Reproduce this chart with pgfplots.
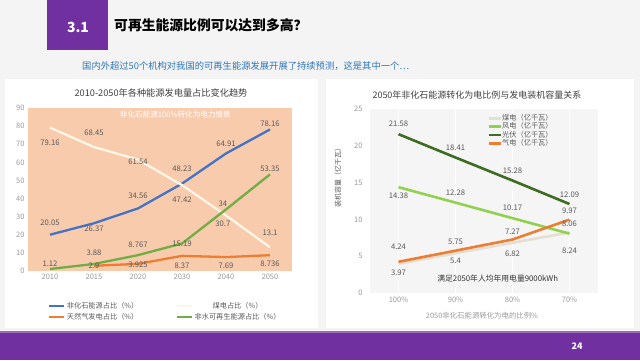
\documentclass[border=0pt]{standalone}
\usepackage{pgfplots}
\pgfplotsset{compat=1.18}
\usepackage{fontspec}
\setmainfont{Noto Sans CJK SC}
\definecolor{bgc}{HTML}{F4F4F4}
\definecolor{purp}{HTML}{7030A0}
\definecolor{subc}{HTML}{2E75B6}
\definecolor{pinkc}{HTML}{F8CBAD}
\definecolor{blueL}{HTML}{4472C4}
\definecolor{creamL}{HTML}{FDF6E6}
\definecolor{orangeL}{HTML}{ED7D31}
\definecolor{greenL}{HTML}{70AD47}
\definecolor{coalR}{HTML}{E4DFD2}
\definecolor{windR}{HTML}{92D050}
\definecolor{pvR}{HTML}{3F6B22}
\definecolor{lblc}{HTML}{595959}
\definecolor{tickc}{HTML}{9A9A9A}
\newcommand{\lb}[3]{\node[font=\fontsize{7.7}{8}\selectfont, text=lblc, yshift=#3pt, inner sep=0pt] at (axis cs:#1,#2) {#2};}
\begin{document}
\begin{tikzpicture}
% background
\fill[bgc] (0pt,0pt) rectangle (640pt,-360pt);
\fill[purp] (47pt,0pt) rectangle (108pt,-50pt);
\node[text=white, font=\fontsize{14}{16}\selectfont\bfseries] at (78pt,-27pt) {3.1};
\node[anchor=west, text=black, font=\fontsize{13.8}{15}\selectfont\bfseries, inner sep=0pt] at (114pt,-25pt) {可再生能源比例可以达到多高？};
\node[anchor=west, text=subc, font=\fontsize{9.3}{11}\selectfont, inner sep=0pt] at (82pt,-66pt) {国内外超过50个机构对我国的可再生能源发展开展了持续预测，这是其中一个…};
% panels
\fill[white] (5pt,-79pt) rectangle (318pt,-328pt);
\fill[white] (326pt,-79pt) rectangle (634pt,-328pt);
% bottom bar
\fill[purp] (0pt,-332pt) rectangle (640pt,-360pt);
\fill[purp!70!white] (0pt,-331pt) rectangle (640pt,-332.5pt);
\node[text=white, font=\fontsize{9}{10}\selectfont\bfseries] at (577pt,-346pt) {24};
% titles
\node[text=black!75, font=\fontsize{9.2}{10}\selectfont] at (161pt,-93pt) {2010-2050年各种能源发电量占比变化趋势};
\node[text=black!75, font=\fontsize{9}{10}\selectfont] at (477pt,-95pt) {2050年非化石能源转化为电比例与发电装机容量关系};

% LEFT AXIS
\begin{axis}[at={(28pt,-271pt)}, anchor=south west, width=264pt, height=163pt, scale only axis,
  xmin=-0.5, xmax=5.5, ymin=0, ymax=90, ytick={0,10,...,90},
  xtick={0,1,2,3,4,5}, xticklabels={2010,2015,2020,2030,2040,2050},
  axis line style={draw=none}, tick style={draw=none},
  axis background/.style={fill=pinkc},
  ticklabel style={font=\fontsize{7.5}{8}\selectfont, text=tickc},
  /pgf/number format/assume math mode=true,
  clip=false,
  legend columns=2,
  legend style={draw=none, fill=none, at={(axis description cs:0.064,-0.17)}, anchor=north west,
    font=\fontsize{7.2}{8}\selectfont, text=lblc, nodes={inner sep=1.5pt},
    /tikz/every even column/.append style={column sep=36pt}},
  legend image code/.code={\draw[#1] (0pt,0pt) -- (15pt,0pt);},
  every axis plot/.append style={line width=2.3pt}]
\addplot[blueL, mark=none] coordinates {(0,20.05) (1,26.37) (2,34.56) (3,48.23) (4,64.91) (5,78.16)};
\addlegendentry{非化石能源占比（\%）}
\addplot[creamL, mark=none] coordinates {(0,79.16) (1,68.45) (2,61.54) (3,47.42) (4,30.7) (5,13.1)};
\addlegendentry{煤电占比（\%）}
\addplot[orangeL, mark=none] coordinates {(1,2.9) (2,3.925) (3,8.37) (4,7.69) (5,8.736)};
\addlegendentry{天然气发电占比（\%）}
\addplot[greenL, mark=none] coordinates {(0,1.12) (1,3.88) (2,8.767) (3,15.19) (4,34) (5,53.35)};
\addlegendentry{非水可再生能源占比（\%）}
\node[text=white, font=\fontsize{7.6}{8}\selectfont] at (axis cs:2.85,86.5) {非化石能源100\%转化为电力情景};
\lb{0}{20.05}{12}\lb{1}{26.37}{-6}\lb{2}{34.56}{13}\lb{3}{48.23}{15}\lb{4}{64.91}{10}\lb{5}{78.16}{6}
\lb{0}{79.16}{-15}\lb{1}{68.45}{14}\lb{2}{61.54}{-2}\lb{3}{47.42}{-15}\lb{3.93}{30.7}{-8}\lb{5}{13.1}{15}
\lb{0}{1.12}{5}\lb{1}{3.88}{11}\lb{2}{8.767}{10}\lb{3}{15.19}{0}\lb{3.93}{34}{6}\lb{5}{53.35}{6}
\lb{1}{2.9}{0}\lb{2}{3.925}{-1}\lb{3}{8.37}{-10}\lb{4}{7.69}{-9}\lb{5}{8.736}{-9}
\end{axis}

% RIGHT AXIS
\node[rotate=90, text=lblc, font=\fontsize{7}{8}\selectfont] at (338pt,-176pt) {装机容量（亿千瓦）};
\node[text=tickc, font=\fontsize{7.4}{8}\selectfont] at (482pt,-316pt) {2050非化石能源转化为电的比例\%};
\begin{axis}[at={(370pt,-293pt)}, anchor=south west, width=228pt, height=184pt, scale only axis,
  xmin=-0.5, xmax=3.5, ymin=0, ymax=25, ytick={0,5,...,25},
  xtick={0,1,2,3}, xticklabels={100\%,90\%,80\%,70\%},
  axis line style={draw=none}, tick style={draw=none},
  axis background/.style={fill=black!4},
  xmajorgrids, grid style={white, line width=0.8pt},
  ticklabel style={font=\fontsize{7.5}{8}\selectfont, text=tickc},
  yticklabel style={xshift=-4pt},
  /pgf/number format/assume math mode=true,
  clip=false,
  legend style={draw=none, fill=none, at={(axis description cs:0.5,0.985)}, anchor=north west,
    font=\fontsize{7.2}{8}\selectfont, text=lblc, nodes={inner sep=0.4pt}, row sep=0pt},
  legend image code/.code={\draw[#1] (0pt,0pt) -- (12pt,0pt);},
  every axis plot/.append style={line width=2.6pt}]
\addplot[coalR, mark=none] coordinates {(0,3.97) (1,5.4) (2,6.82) (3,8.24)};
\addlegendentry{煤电（亿千瓦）}
\addplot[windR, mark=none] coordinates {(0,14.38) (1,12.28) (2,10.17) (3,8.06)};
\addlegendentry{风电（亿千瓦）}
\addplot[pvR, mark=none] coordinates {(0,21.58) (1,18.41) (2,15.28) (3,12.09)};
\addlegendentry{光伏（亿千瓦）}
\addplot[orangeL, mark=none] coordinates {(0,4.24) (1,5.75) (2,7.27) (3,9.97)};
\addlegendentry{气电（亿千瓦）}
\node[text=black!80, font=\fontsize{7.8}{9}\selectfont] at (axis cs:1.74,1.9) {满足2050年人均年用电量9000kWh};
\lb{0}{21.58}{10}\lb{1}{18.41}{9.5}\lb{2}{15.28}{9.5}\lb{3}{12.09}{9}
\lb{0}{14.38}{-9}\lb{1}{12.28}{10}\lb{2}{10.17}{10}\lb{3}{8.06}{10}
\lb{0}{4.24}{15}\lb{1}{5.75}{9}\lb{2}{7.27}{7.5}\lb{3}{9.97}{9}
\lb{0}{3.97}{-9}\lb{1}{5.4}{-8}\lb{2}{6.82}{-11}\lb{3}{8.24}{-18}
\end{axis}
\end{tikzpicture}
\end{document}
